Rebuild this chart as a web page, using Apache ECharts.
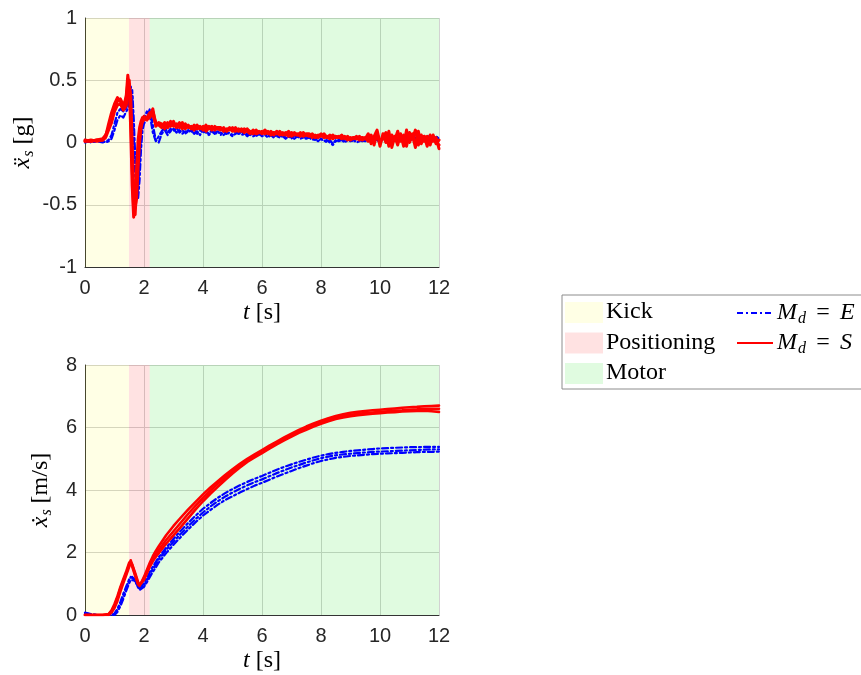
<!DOCTYPE html>
<html>
<head>
<meta charset="utf-8">
<script src="https://cdn.jsdelivr.net/npm/echarts@6/dist/echarts.min.js"></script>
<style>
html,body{margin:0;padding:0;background:#fff;}
#chart{width:861px;height:675px;}
</style>
</head>
<body>
<div id="chart"></div>
<script>
// ---------- phases (shaded regions) ----------
const phaseNames = ['Kick', 'Positioning', 'Motor'];
const phaseStart = [0, 1.49, 2.19];
const phaseEnd   = [1.49, 2.19, 12];

// ---------- tick settings ----------
const xTicks = [0, 2, 4, 6, 8, 10, 12];
const accTicks = [-1, -0.5, 0, 0.5, 1];
const velTicks = [0, 2, 4, 6, 8];

// ---------- acceleration (top) ----------
const tAcc = [0,0.2,0.4,0.6,0.7,0.8,0.9,1.0,1.1,1.2,1.3,1.4,1.45,1.5,1.55,1.6,1.65,1.7,1.75,1.8,1.85,1.9,1.95,2.0,2.1,2.2,2.3,2.4,2.5,
2.6,2.7,2.8,2.9,3.0,3.1,3.2,3.3,3.4,3.5,
3.6,3.7,3.8,3.9,4.0,4.1,4.2,4.3,4.4,4.5,
4.6,4.7,4.8,4.9,5.0,5.1,5.2,5.3,5.4,5.5,
5.6,5.7,5.8,5.9,6.0,6.1,6.2,6.3,6.4,6.5,
6.6,6.7,6.8,6.9,7.0,7.1,7.2,7.3,7.4,7.5,
7.6,7.7,7.8,7.9,8.0,8.1,8.2,8.3,8.4,8.5,
8.6,8.7,8.8,8.9,9.0,9.1,9.2,9.3,9.4,9.5,
9.6,9.7,9.8,9.9,10.0,10.1,10.2,10.3,10.4,10.5,
10.6,10.7,10.8,10.9,11.0,11.1,11.2,11.3,11.4,11.5,
11.6,11.7,11.8,11.9,12.0];

const accRed1 = [0.01,0.01,0.02,0.03,0.06,0.12,0.2,0.28,0.33,0.35,0.3,0.35,0.48,0.5,0.2,-0.2,-0.55,-0.58,-0.35,-0.1,0.05,0.14,0.18,0.2,0.18,0.22,0.27,0.13,0.16,
0.15,0.11,0.16,0.13,0.17,0.12,0.14,0.11,0.15,0.12,
0.13,0.10,0.14,0.11,0.13,0.09,0.12,0.10,0.13,0.11,
0.10,0.12,0.09,0.11,0.10,0.12,0.09,0.11,0.08,0.10,
0.09,0.07,0.10,0.08,0.09,0.07,0.09,0.06,0.08,0.07,
0.09,0.06,0.08,0.05,0.08,0.06,0.07,0.05,0.08,0.06,
0.05,0.07,0.04,0.06,0.05,0.07,0.04,0.06,0.03,0.05,
0.04,0.06,0.03,0.05,0.02,0.04,0.03,0.05,0.02,0.04,
0.01,0.06,-0.02,0.08,-0.03,0.07,0.00,0.09,-0.04,0.05,
-0.02,0.07,-0.03,0.10,0.00,0.06,-0.04,0.09,-0.01,0.05,
-0.03,0.06,0.01,0.04,-0.05];

const accRed2 = [0.02,0.01,0.02,0.02,0.05,0.15,0.24,0.31,0.36,0.33,0.27,0.38,0.54,0.45,0.1,-0.35,-0.6,-0.45,-0.2,0.02,0.12,0.17,0.2,0.18,0.2,0.24,0.22,0.15,0.14,
0.12,0.16,0.12,0.17,0.13,0.15,0.12,0.16,0.11,0.14,
0.11,0.14,0.12,0.13,0.10,0.14,0.11,0.13,0.10,0.12,
0.12,0.09,0.11,0.10,0.12,0.09,0.11,0.10,0.11,0.09,
0.07,0.10,0.08,0.09,0.07,0.10,0.07,0.09,0.06,0.09,
0.06,0.08,0.07,0.09,0.05,0.07,0.06,0.08,0.05,0.07,
0.07,0.04,0.06,0.05,0.07,0.04,0.05,0.03,0.06,0.04,
0.05,0.03,0.05,0.02,0.04,0.03,0.05,0.02,0.04,0.03,
0.07,-0.01,0.05,0.10,0.00,0.04,0.08,-0.03,0.06,0.02,
0.09,0.01,0.05,-0.03,0.08,0.03,0.10,-0.02,0.06,0.01,
0.05,-0.02,0.06,-0.01,0.02];

const accRed3 = [0.01,0.02,0.01,0.02,0.04,0.1,0.16,0.25,0.3,0.31,0.26,0.3,0.4,0.47,0.38,0.0,-0.38,-0.52,-0.45,-0.2,0.0,0.12,0.17,0.21,0.19,0.2,0.25,0.16,0.15,
0.13,0.14,0.12,0.15,0.14,0.13,0.16,0.13,0.14,0.13,
0.12,0.13,0.11,0.12,0.12,0.11,0.13,0.12,0.11,0.12,
0.11,0.10,0.10,0.12,0.09,0.10,0.10,0.09,0.10,0.11,
0.08,0.09,0.07,0.08,0.08,0.09,0.08,0.07,0.08,0.07,
0.07,0.07,0.06,0.07,0.07,0.08,0.06,0.07,0.06,0.06,
0.06,0.05,0.05,0.04,0.06,0.05,0.04,0.05,0.04,0.05,
0.04,0.04,0.04,0.03,0.03,0.04,0.03,0.03,0.04,0.03,
0.03,0.04,0.01,0.05,0.02,0.03,0.04,0.01,0.03,0.03,
0.04,0.02,0.06,0.01,0.03,0.07,0.00,0.04,0.02,0.05,
0.01,0.03,0.05,0.00,-0.02];

const accBlue1 = [0.0,0.01,0.01,0.0,0.01,0.02,0.06,0.15,0.24,0.27,0.25,0.28,0.3,0.38,0.45,0.38,0.05,-0.25,-0.42,-0.38,-0.15,0.08,0.17,0.2,0.25,0.22,0.08,0.01,0.05,
0.09,0.12,0.08,0.11,0.09,0.12,0.08,0.10,0.07,0.10,
0.08,0.11,0.07,0.10,0.08,0.09,0.07,0.10,0.08,0.09,
0.06,0.09,0.07,0.08,0.06,0.08,0.07,0.09,0.06,0.07,
0.06,0.08,0.05,0.07,0.06,0.07,0.05,0.06,0.04,0.06,
0.05,0.06,0.04,0.05,0.03,0.06,0.04,0.05,0.04,0.05,
0.03,0.05,0.02,0.04,0.03,0.01,0.02,0.00,-0.02,0.01,
0.02,0.03,0.01,0.03,0.02,0.01,0.03,0.02,0.01,0.02,
0.02,0.04,0.01,0.03,0.02,0.04,0.01,0.03,0.02,0.04,
0.03,0.05,0.02,0.04,0.01,0.05,0.03,0.04,0.02,0.05,
0.03,0.06,0.02,0.05,0.03];

const accBlue2 = [0.02,0.0,0.01,0.01,0.0,0.01,0.03,0.1,0.18,0.22,0.2,0.25,0.27,0.33,0.4,0.42,0.2,-0.1,-0.3,-0.45,-0.3,-0.05,0.1,0.15,0.2,0.27,0.14,0.02,0.0,
0.07,0.10,0.06,0.09,0.11,0.08,0.10,0.07,0.09,0.08,
0.10,0.07,0.09,0.06,0.10,0.08,0.06,0.09,0.07,0.08,
0.08,0.06,0.08,0.07,0.05,0.07,0.08,0.06,0.07,0.05,
0.07,0.05,0.06,0.07,0.05,0.06,0.04,0.06,0.05,0.05,
0.04,0.05,0.03,0.05,0.04,0.03,0.05,0.03,0.04,0.03,
0.04,0.02,0.03,0.01,0.03,0.02,0.00,0.02,-0.01,0.02,
0.01,0.02,0.00,0.02,0.01,0.02,0.00,0.01,0.02,0.01,
0.03,0.01,0.03,0.02,0.00,0.03,0.02,0.01,0.03,0.02,
0.02,0.04,0.01,0.03,0.04,0.02,0.04,0.01,0.03,0.04,
0.02,0.05,0.03,0.04,0.06];

// ---------- velocity (bottom) ----------
const tVel = [0,0.2,0.4,0.6,0.8,0.9,1.0,1.1,1.2,1.3,1.4,1.5,1.55,1.6,1.7,1.8,1.85,1.9,2.0,2.1,2.2,2.3,2.4,2.5,
2.75,3,3.25,3.5,3.75,4,4.25,4.5,4.75,5,5.25,5.5,5.75,6,6.25,6.5,6.75,7,7.25,7.5,7.75,8,8.25,8.5,8.75,9,9.25,9.5,9.75,10,10.25,10.5,10.75,11,11.25,11.5,11.75,12];

const velRed1 = [0,0,0,0,0.02,0.12,0.3,0.55,0.85,1.1,1.35,1.62,1.75,1.6,1.3,1.0,0.93,0.98,1.18,1.4,1.62,1.8,1.95,2.08,
2.4,2.68,2.96,3.24,3.5,3.75,3.98,4.2,4.4,4.6,4.78,4.95,5.09,5.22,5.37,5.5,5.63,5.75,5.87,5.98,6.08,6.17,6.25,6.32,6.37,6.41,6.44,6.46,6.48,6.5,6.52,6.54,6.55,6.57,6.58,6.6,6.6,6.6];
const velRed2 = [0,0,0,0,0.03,0.15,0.35,0.6,0.9,1.15,1.4,1.68,1.72,1.55,1.25,0.98,0.95,1.02,1.22,1.45,1.68,1.88,2.05,2.2,
2.55,2.85,3.12,3.38,3.62,3.86,4.08,4.28,4.48,4.66,4.84,5.0,5.14,5.28,5.42,5.55,5.68,5.8,5.92,6.03,6.13,6.22,6.3,6.37,6.42,6.47,6.5,6.53,6.55,6.57,6.59,6.61,6.63,6.65,6.66,6.68,6.69,6.7];
const velRed3 = [0,0,0,0,0.0,0.08,0.22,0.45,0.75,1.02,1.28,1.55,1.7,1.62,1.35,1.05,0.96,0.98,1.12,1.33,1.55,1.72,1.86,1.98,
2.28,2.55,2.82,3.1,3.38,3.64,3.88,4.1,4.32,4.53,4.72,4.9,5.04,5.18,5.32,5.46,5.59,5.71,5.83,5.93,6.03,6.12,6.2,6.27,6.32,6.36,6.39,6.42,6.44,6.46,6.48,6.49,6.51,6.52,6.53,6.54,6.52,6.5];

const velBlue1 = [0.08,0.03,0,0,0,0,0.03,0.15,0.35,0.6,0.85,1.1,1.22,1.27,1.15,0.92,0.85,0.85,0.95,1.1,1.3,1.47,1.62,1.78,
2.08,2.35,2.6,2.84,3.07,3.28,3.47,3.64,3.79,3.92,4.04,4.15,4.25,4.34,4.44,4.54,4.63,4.72,4.8,4.88,4.95,5.02,5.07,5.11,5.14,5.16,5.18,5.2,5.22,5.23,5.24,5.25,5.26,5.27,5.28,5.29,5.3,5.3];
const velBlue2 = [0.05,0.02,0,0,0,0,0.05,0.2,0.42,0.68,0.92,1.15,1.2,1.22,1.08,0.9,0.88,0.9,1.02,1.18,1.38,1.55,1.7,1.85,
2.15,2.44,2.7,2.95,3.18,3.4,3.58,3.75,3.9,4.03,4.15,4.26,4.36,4.45,4.55,4.65,4.74,4.82,4.9,4.97,5.04,5.1,5.15,5.19,5.22,5.25,5.27,5.29,5.31,5.33,5.34,5.35,5.36,5.37,5.37,5.38,5.38,5.38];
const velBlue3 = [0.03,0,0,0,0,0,0,0.1,0.28,0.52,0.78,1.02,1.12,1.18,1.1,0.88,0.8,0.8,0.9,1.05,1.22,1.38,1.52,1.68,
1.98,2.25,2.5,2.74,2.97,3.18,3.36,3.53,3.68,3.8,3.92,4.03,4.14,4.23,4.33,4.43,4.52,4.61,4.7,4.78,4.86,4.93,4.98,5.03,5.06,5.09,5.11,5.13,5.15,5.16,5.17,5.18,5.19,5.2,5.21,5.22,5.22,5.23];

// ---------- styling ----------
const SERIF = 'Liberation Serif';
const SANS = 'Liberation Sans';
const phaseColors = ['rgba(255,255,0,0.10)', 'rgba(255,0,0,0.115)', 'rgba(0,225,0,0.12)'];
const BLUE = '#0000ff', RED = '#ff0000';
const DASHDOT = [6, 3, 2, 3];

const rich = {
  i:   {fontFamily: SERIF, fontStyle: 'italic', fontSize: 24, lineHeight: 28, color: '#000'},
  r:   {fontFamily: SERIF, fontSize: 24, lineHeight: 28, color: '#000'},
  sub: {fontFamily: SERIF, fontStyle: 'italic', fontSize: 16, lineHeight: 16, padding: [12, 0, 0, 1], color: '#000'},
  eq:  {fontFamily: SERIF, fontSize: 24, lineHeight: 28, width: 34, align: 'center', color: '#000'}
};

const chart = echarts.init(document.getElementById('chart'));

function xAxisDef(idx) {
  return {
    type: 'value', gridIndex: idx, min: xTicks[0], max: xTicks[xTicks.length - 1], interval: 2,
    name: '{i|t}{r| [s]}', nameLocation: 'middle', nameGap: 32,
    nameTextStyle: {rich: rich},
    axisLine: {show: true, onZero: false, lineStyle: {color: '#333', width: 1}},
    axisTick: {show: false},
    axisLabel: {fontFamily: SANS, fontSize: 20, color: '#262626', margin: 11},
    splitLine: {show: true, lineStyle: {color: '#d2d2d2', width: 1}}
  };
}
function yAxisDef(idx, ticks, name, gap) {
  return {
    type: 'value', gridIndex: idx, min: ticks[0], max: ticks[ticks.length - 1], interval: ticks[1] - ticks[0],
    name: name, nameLocation: 'middle', nameGap: gap,
    nameTextStyle: {rich: rich},
    axisLine: {show: true, onZero: false, lineStyle: {color: '#333', width: 1}},
    axisTick: {show: false},
    axisLabel: {fontFamily: SANS, fontSize: 20, color: '#262626', margin: 8},
    splitLine: {show: true, lineStyle: {color: '#d2d2d2', width: 1}}
  };
}

function shadeSeries(idx) {
  return {
    type: 'line', xAxisIndex: idx, yAxisIndex: idx, data: [], silent: true, z: 1,
    markArea: {
      silent: true, z: 1,
      data: phaseNames.map((n, k) => [
        {name: '', xAxis: phaseStart[k], itemStyle: {color: phaseColors[k]}},
        {xAxis: phaseEnd[k]}
      ])
    }
  };
}

function lineSeries(idx, t, v, color, width, dash) {
  return {
    type: 'line', xAxisIndex: idx, yAxisIndex: idx,
    data: t.map((x, i) => [x, v[i]]),
    showSymbol: false, symbol: 'none', silent: true, z: 3,
    lineStyle: {color: color, width: width, type: dash, join: 'round', cap: 'round'}
  };
}

const series = [
  shadeSeries(0),
  lineSeries(0, tAcc, accBlue1, BLUE, 2.2, DASHDOT),
  lineSeries(0, tAcc, accBlue2, BLUE, 2.2, DASHDOT),
  lineSeries(0, tAcc, accRed3, RED, 3, 'solid'),
  lineSeries(0, tAcc, accRed2, RED, 3, 'solid'),
  lineSeries(0, tAcc, accRed1, RED, 3, 'solid'),
  shadeSeries(1),
  lineSeries(1, tVel, velBlue1, BLUE, 2.2, DASHDOT),
  lineSeries(1, tVel, velBlue2, BLUE, 2.2, DASHDOT),
  lineSeries(1, tVel, velBlue3, BLUE, 2.2, DASHDOT),
  lineSeries(1, tVel, velRed3, RED, 2.6, 'solid'),
  lineSeries(1, tVel, velRed2, RED, 2.6, 'solid'),
  lineSeries(1, tVel, velRed1, RED, 2.6, 'solid')
];

// legend box drawn with graphic elements
const LX = 562, LY = 295;
const legendGraphics = [
  {type: 'rect', shape: {x: LX, y: LY, width: 320, height: 94}, style: {fill: '#fff', stroke: '#8c8c8c', lineWidth: 1}, z: 10}
];
phaseNames.forEach((n, k) => {
  const cy = LY + 17 + k * 30.5;
  legendGraphics.push({type: 'rect', shape: {x: LX + 3, y: cy - 10, width: 38, height: 21}, style: {fill: phaseColors[k]}, z: 11});
  legendGraphics.push({type: 'text', x: LX + 44, y: cy - 14, style: {text: '{r|' + n + '}', rich: rich, verticalAlign: 'top', align: 'left'}, z: 11});
});
const lineNames = ['{i|M}{sub|d}{eq|=}{i|E}', '{i|M}{sub|d}{eq|=}{i|S}'];
const lineColors = [BLUE, RED];
const lineDashes = [DASHDOT, null];
lineNames.forEach((n, k) => {
  const cy = LY + 18 + k * 30;
  legendGraphics.push({type: 'line', shape: {x1: 737, y1: cy, x2: 773, y2: cy}, style: {stroke: lineColors[k], lineWidth: 2, lineDash: lineDashes[k]}, z: 11});
  legendGraphics.push({type: 'text', x: 777, y: cy - 14, style: {text: n, rich: rich, fill: '#000', verticalAlign: 'top', align: 'left'}, z: 11});
});

chart.setOption({
  animation: false,
  backgroundColor: '#fff',
  grid: [
    {left: 85, top: 18, width: 354, height: 249, containLabel: false},
    {left: 85, top: 365, width: 354, height: 250, containLabel: false}
  ],
  xAxis: [xAxisDef(0), xAxisDef(1)],
  yAxis: [
    yAxisDef(0, accTicks, '{i|ẍ}{sub|s}{r| [g]}', 48),
    yAxisDef(1, velTicks, '{i|ẋ}{sub|s}{r| [m/s]}', 30)
  ],
  series: series,
  graphic: legendGraphics
});
</script>
</body>
</html>
